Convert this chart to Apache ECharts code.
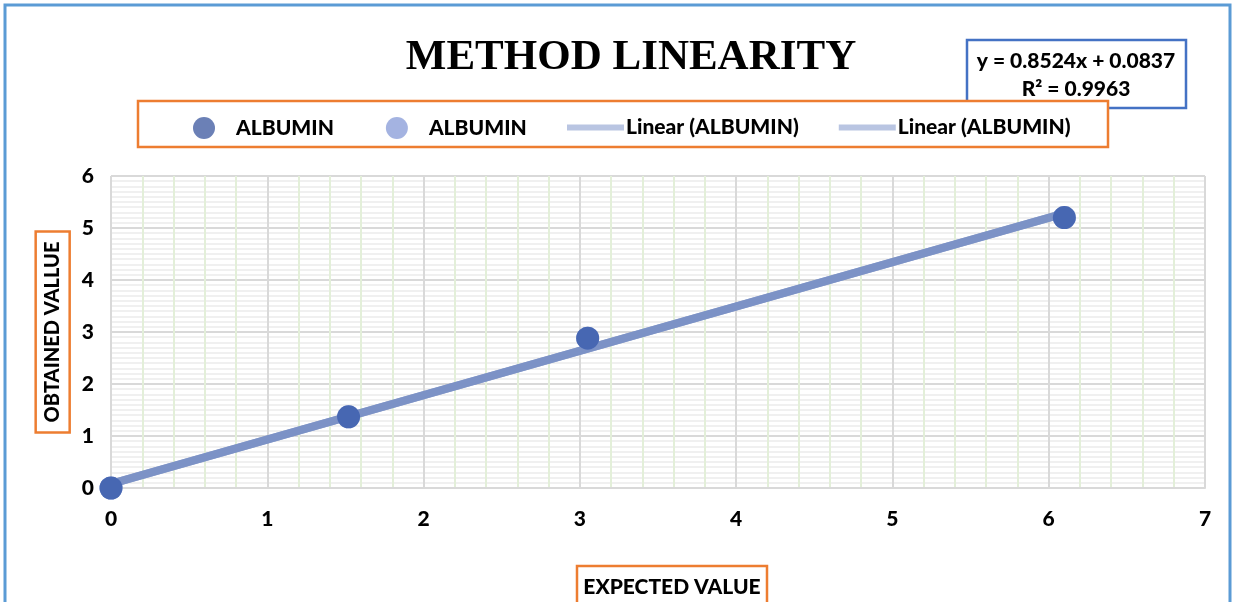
<!DOCTYPE html>
<html><head><meta charset="utf-8">
<script src="https://cdn.jsdelivr.net/npm/echarts@6/dist/echarts.min.js"></script>
<style>html,body{margin:0;padding:0;background:#fff}#c{width:1234px;height:602px}</style>
</head><body><div id="c"></div>
<script>
// Data
const expected = [0, 1.52, 3.05, 6.1];
const obtained = [0, 1.37, 2.88, 5.2];
// Trend line end points (Excel linear trendline, as drawn)
const trendX = [0, 6.1];
const trendY = [0.08, 5.28];
const xTicks = [0, 1, 2, 3, 4, 5, 6, 7];
const yTicks = [0, 1, 2, 3, 4, 5, 6];
const equationText = ['y = 0.8524x + 0.0837', 'R² = 0.9963'];
const seriesName = 'ALBUMIN';
const trendName = 'Linear (ALBUMIN)';

const pts = expected.map((x, i) => [x, obtained[i]]);
const trend = trendX.map((x, i) => [x, trendY[i]]);
const F = 'Lato, "Noto Sans", sans-serif';

const chart = echarts.init(document.getElementById('c'));
chart.setOption({
  animation: false,
  backgroundColor: '#fff',
  title: {
    text: 'METHOD LINEARITY', left: 626, top: 31, textAlign: 'center',
    textStyle: {fontFamily: '"Liberation Serif", serif', fontWeight: 'bold', fontSize: 43, color: '#000'}
  },
  legend: [
    {
      left: 188, top: 112, itemWidth: 22, itemHeight: 22, itemGap: 52, icon: 'circle',
      data: [
        {name: seriesName, itemStyle: {color: '#6b80b6'}},
        {name: seriesName + ' ', itemStyle: {color: '#8da0da'}}
      ],
      textStyle: {fontFamily: F, fontWeight: 900, fontSize: 21, color: '#000', padding: [0, 0, 0, 16]},
      z: 20
    },
    {
      left: 562, top: 112, itemWidth: 57, itemHeight: 6, itemGap: 40, icon: 'rect',
      data: [
        {name: trendName, itemStyle: {color: '#b9c5e2'}},
        {name: trendName + ' ', itemStyle: {color: '#b9c5e2'}}
      ],
      textStyle: {fontFamily: F, fontWeight: 900, fontSize: 21, color: '#000', padding: [0, 0, 0, -3]},
      z: 20
    }
  ],
  grid: {left: 111, right: 29, top: 176, bottom: 114},
  xAxis: {
    type: 'value', min: xTicks[0], max: xTicks[xTicks.length - 1], interval: 1,
    axisLine: {show: true, lineStyle: {color: '#d9d9d9', width: 2}},
    axisTick: {show: false},
    axisLabel: {fontFamily: F, fontWeight: 900, fontSize: 21, color: '#000', margin: 21},
    splitLine: {show: true, lineStyle: {color: '#d9d9d9', width: 2}},
    minorTick: {show: false, splitNumber: 5},
    minorSplitLine: {show: true, lineStyle: {color: '#e3efd9', width: 2}}
  },
  yAxis: {
    type: 'value', min: yTicks[0], max: yTicks[yTicks.length - 1], interval: 1,
    name: 'OBTAINED VALLUE', nameLocation: 'middle', nameRotate: 90, nameGap: 39,
    nameTextStyle: {fontFamily: F, fontWeight: 900, fontSize: 20, color: '#000',
      borderColor: '#ed7d31', borderWidth: 2.5, padding: [7, 10, 7, 10]},
    axisLine: {show: false},
    axisTick: {show: false},
    axisLabel: {fontFamily: F, fontWeight: 900, fontSize: 21, color: '#000', margin: 17},
    splitLine: {show: true, lineStyle: {color: '#d9d9d9', width: 2}},
    minorTick: {show: false, splitNumber: 10},
    minorSplitLine: {show: true, lineStyle: {color: '#ececec', width: 1.5}}
  },
  series: [
    {name: trendName + ' ', type: 'line', data: trend, symbol: 'none',
      lineStyle: {color: '#7b91c5', width: 8, opacity: 0.9}, z: 3},
    {name: trendName, type: 'line', data: trend, symbol: 'none',
      lineStyle: {color: '#7b91c5', width: 8, opacity: 0.9}, z: 3},
    {name: seriesName + ' ', type: 'scatter', data: pts, symbolSize: 23,
      itemStyle: {color: '#8da0da'}, z: 4},
    {name: seriesName, type: 'scatter', data: pts, symbolSize: 23,
      itemStyle: {color: '#4767b2', opacity: 1}, z: 5}
  ],
  graphic: [
    {type: 'rect', shape: {x: 5, y: 5, width: 1225, height: 640},
      style: {fill: 'none', stroke: '#5b9bd5', lineWidth: 3}, z: 1, silent: true},
    {type: 'rect', shape: {x: 967, y: 40, width: 219, height: 68},
      style: {fill: '#fff', stroke: '#4472c4', lineWidth: 2.5}, z: 10},
    {type: 'text', x: 1076, y: 61, z: 11,
      style: {text: equationText[0], fill: '#000', font: '900 21px ' + F, align: 'center', verticalAlign: 'middle'}},
    {type: 'text', x: 1076, y: 89, z: 11,
      style: {text: equationText[1], fill: '#000', font: '900 21px ' + F, align: 'center', verticalAlign: 'middle'}},
    {type: 'rect', shape: {x: 138, y: 101, width: 970, height: 46},
      style: {fill: '#fff', stroke: '#ed7d31', lineWidth: 2.5}, z: 12},
    {type: 'rect', shape: {x: 577, y: 566, width: 190, height: 50},
      style: {fill: '#fff', stroke: '#ed7d31', lineWidth: 2.5}, z: 10},
    {type: 'text', x: 672, y: 587, z: 11,
      style: {text: 'EXPECTED VALUE', fill: '#000', font: '900 21px ' + F, align: 'center', verticalAlign: 'middle'}}
  ]
});
</script></body></html>
